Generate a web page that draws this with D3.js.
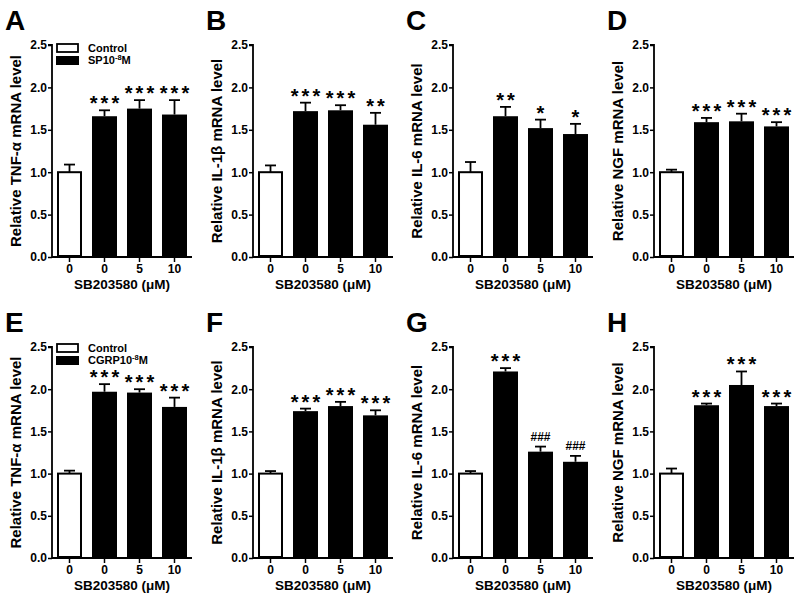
<!DOCTYPE html>
<html><head><meta charset="utf-8">
<script src="https://cdn.jsdelivr.net/npm/d3@7"></script>
<style>body{margin:0;background:#fff}svg{display:block}text{font-family:"Liberation Sans",Arial,sans-serif;font-weight:bold}</style>
</head><body><svg id="c" width="800" height="602"></svg>
<script>
const categories = ["0", "0", "5", "10"];
const yTickValues = [0, 0.5, 1.0, 1.5, 2.0, 2.5];
const panelLetters = ["A", "B", "C", "D", "E", "F", "G", "H"];
const yTitles = ["Relative TNF-\u03b1 mRNA level", "Relative IL-1\u03b2 mRNA level", "Relative IL-6 mRNA level", "Relative NGF mRNA level",
                 "Relative TNF-\u03b1 mRNA level", "Relative IL-1\u03b2 mRNA level", "Relative IL-6 mRNA level", "Relative NGF mRNA level"];
const means = [
  [1.00, 1.66, 1.75, 1.68],
  [1.00, 1.72, 1.73, 1.56],
  [1.00, 1.66, 1.52, 1.45],
  [1.00, 1.59, 1.60, 1.54],
  [1.00, 1.97, 1.96, 1.79],
  [1.00, 1.74, 1.80, 1.69],
  [1.00, 2.21, 1.26, 1.14],
  [1.00, 1.81, 2.05, 1.80]
];
const errors = [
  [0.09, 0.07, 0.10, 0.17],
  [0.08, 0.10, 0.06, 0.14],
  [0.12, 0.11, 0.10, 0.12],
  [0.03, 0.05, 0.09, 0.05],
  [0.035, 0.09, 0.04, 0.11],
  [0.03, 0.03, 0.05, 0.06],
  [0.03, 0.04, 0.06, 0.07],
  [0.06, 0.02, 0.16, 0.03]
];
const marks = [
  ["", "***", "***", "***"],
  ["", "***", "***", "**"],
  ["", "**", "*", "*"],
  ["", "***", "***", "***"],
  ["", "***", "***", "***"],
  ["", "***", "***", "***"],
  ["", "***", "###", "###"],
  ["", "***", "***", "***"]
];
const legendLabels = [["Control", "SP10", "-8", "M"], ["Control", "CGRP10", "-8", "M"]];
const xTitle = "SB203580 (\u03bcM)";

const svg = d3.select("#c");
const axisX0 = [52, 253, 453, 654];
const rowY = [[257, 45], [558, 347]];

means.forEach((vals, i) => {
  const col = i % 4, row = Math.floor(i / 4);
  const x0 = axisX0[col];
  const [yb, yt] = rowY[row];
  const g = svg.append("g");
  const x = d3.scaleBand().domain(d3.range(4)).range([x0, x0 + 140]).paddingInner(0.286).paddingOuter(0.143);
  const y = d3.scaleLinear().domain([0, 2.5]).range([yb, yt]);

  // error bars (upper only)
  vals.forEach((v, j) => {
    const cx = x(j) + x.bandwidth() / 2;
    g.append("line").attr("x1", cx).attr("x2", cx).attr("y1", y(v)).attr("y2", y(v + errors[i][j]))
      .attr("stroke", "#000").attr("stroke-width", 1.8);
    g.append("line").attr("x1", cx - 5.5).attr("x2", cx + 5.5).attr("y1", y(v + errors[i][j])).attr("y2", y(v + errors[i][j]))
      .attr("stroke", "#000").attr("stroke-width", 1.8);
  });
  // bars
  g.selectAll("rect.bar").data(vals).enter().append("rect")
    .attr("x", (d, j) => x(j) + (j === 0 ? 1 : 0))
    .attr("width", (d, j) => x.bandwidth() - (j === 0 ? 2 : 0))
    .attr("y", d => y(d))
    .attr("height", d => yb - y(d) - 1)
    .attr("fill", (d, j) => j === 0 ? "#fff" : "#000")
    .attr("stroke", "#000").attr("stroke-width", (d, j) => j === 0 ? 2 : 0);
  // significance marks
  vals.forEach((v, j) => {
    const m = marks[i][j];
    if (!m) return;
    const cx = x(j) + x.bandwidth() / 2;
    const isHash = m[0] === "#";
    const ls = isHash ? 0 : 3;
    g.append("text").attr("x", cx + ls / 2).attr("y", y(v + errors[i][j]) - (isHash ? 6 : 0))
      .attr("text-anchor", "middle").attr("font-size", isHash ? 12 : 20)
      .attr("letter-spacing", ls).text(m);
  });
  // axes
  const ya = g.append("g").attr("transform", `translate(${x0},0)`)
    .call(d3.axisLeft(y).tickValues(yTickValues).tickFormat(d3.format(".1f")).tickSize(4).tickPadding(1));
  ya.select(".domain").attr("stroke-width", 1.8).attr("d", `M-4,${yt}H0V${yb}`);
  ya.selectAll(".tick line").attr("stroke-width", 1.5);
  ya.selectAll("text").attr("font-size", 12).attr("fill", "#000");
  const xa = g.append("g").attr("transform", `translate(0,${yb})`)
    .call(d3.axisBottom(x).tickFormat(j => categories[j]).tickSize(5).tickPadding(2));
  xa.select(".domain").attr("stroke-width", 1.8).attr("d", `M${x0},0H${x0 + 140}`);
  xa.selectAll(".tick line").attr("stroke-width", 1.5);
  xa.selectAll("text").attr("font-size", 12).attr("fill", "#000");
  // titles
  g.append("text").attr("x", x0 + 70).attr("y", yb + 32).attr("text-anchor", "middle").attr("font-size", 13.5).text(xTitle);
  g.append("text").attr("transform", `translate(${x0 - 31},${(yb + yt) / 2}) rotate(-90)`)
    .attr("text-anchor", "middle").attr("font-size", 15).text(yTitles[i]);
  g.append("text").attr("x", x0 - 47).attr("y", yt - 15).attr("font-size", 28).text(panelLetters[i]);

  // legend
  if (col === 0) {
    const L = legendLabels[row];
    const lx = x0 + 5, ly = yt - 1 - row * 2;
    g.append("rect").attr("x", lx).attr("y", ly).attr("width", 21).attr("height", 8).attr("fill", "#fff").attr("stroke", "#000").attr("stroke-width", 1.8);
    g.append("rect").attr("x", lx - 1).attr("y", ly + 12).attr("width", 23).attr("height", 9).attr("fill", "#000");
    g.append("text").attr("x", lx + 31).attr("y", ly + 8).attr("font-size", 11).text(L[0]);
    const t = g.append("text").attr("x", lx + 31).attr("y", ly + 20).attr("font-size", 11);
    t.append("tspan").text(L[1]);
    t.append("tspan").attr("dy", -4).attr("font-size", 7.5).text(L[2]);
    t.append("tspan").attr("dy", 4).text(L[3]);
  }
});
</script></body></html>
